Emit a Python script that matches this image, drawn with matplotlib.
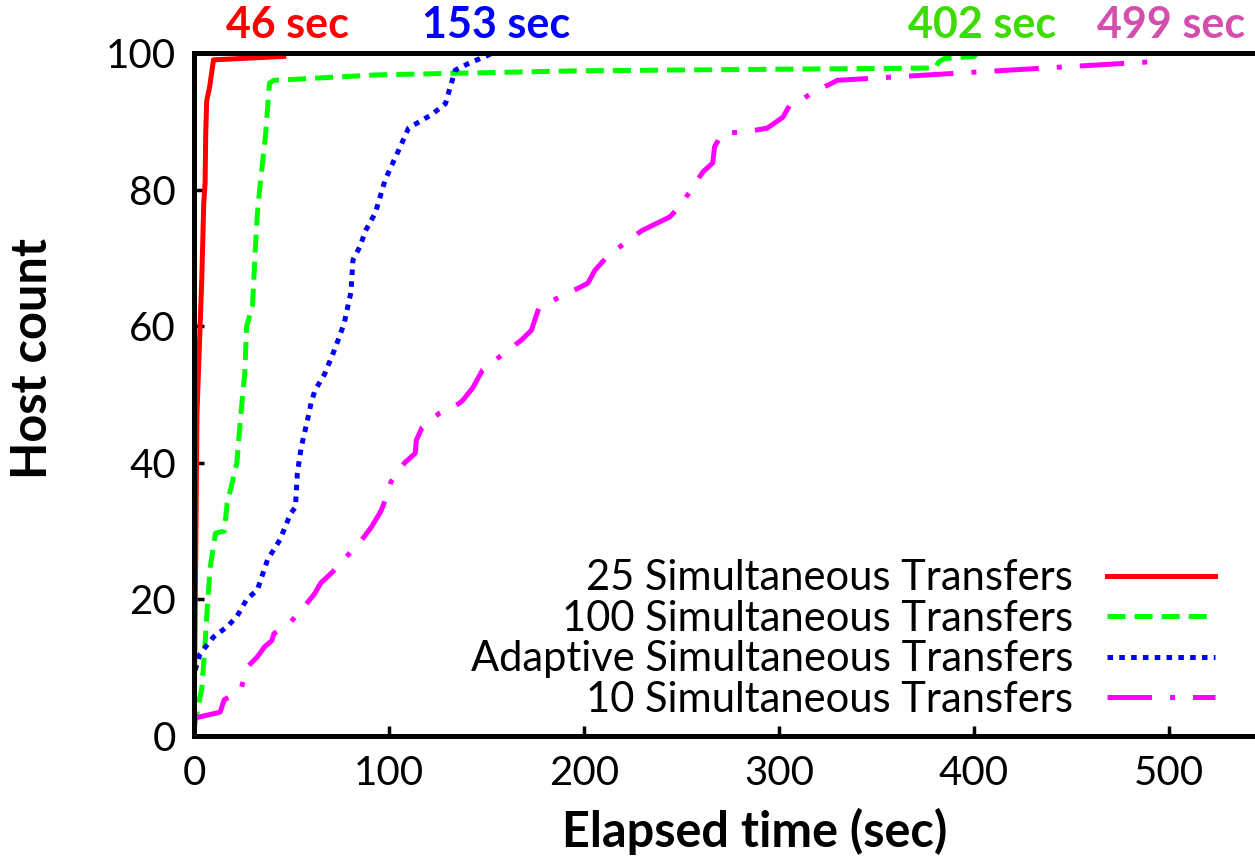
import matplotlib.pyplot as plt

plt.rcParams['font.family'] = ['Lato', 'DejaVu Sans']
plt.rcParams['lines.scale_dashes'] = False

# Host count over time for each transfer strategy
red_x = [0, 0.5, 1, 1.5, 2.5, 4, 5, 5.7, 6, 6.5, 8, 10, 46]
red_y = [0, 15, 30, 47, 55, 67, 78, 81, 88, 93, 95, 99, 99.5]

green_x = [0, 1.5, 4, 5.7, 6.7, 8.3, 11, 15.5, 17, 22, 24, 26, 27, 30, 31.5, 32.5,
           34, 36.7, 38.7, 41, 94.5, 198, 380, 382, 385, 400, 402]
green_y = [1, 3.4, 7, 13.6, 18.4, 24.7, 29.7, 30, 34, 40, 47, 53, 60, 63, 71.6, 76.5,
           81, 88, 95.6, 96, 96.8, 97.4, 97.8, 98.7, 99.2, 99.5, 100]

blue_x = [0, 0, 3, 10, 17, 22, 27, 32.5, 37.7, 44, 49.6, 52, 53, 55, 58, 60, 62, 67,
          72, 77, 80.5, 81.5, 85, 88, 93, 98, 101, 105, 110, 122, 129, 132, 134,
          141, 151, 153]
blue_y = [1, 9, 12, 14.5, 16, 17.5, 20, 21.4, 25.8, 28.7, 32.6, 33.5, 38.5, 42.3, 46,
          48.7, 50.6, 53, 56.5, 60.4, 65, 69.7, 71.6, 74, 76.6, 81.4, 83.3, 85.8, 89,
          91, 92.6, 95.6, 97.5, 98.5, 99.7, 100]

pink_x = [0, 13.4, 15.5, 24, 27, 32.5, 36, 40, 41, 49.6, 56.7, 62, 65, 71, 78, 86, 91,
          96, 98, 101, 108, 113.5, 114, 117, 126, 136, 138, 143, 148, 168, 173, 177,
          198, 202, 205.6, 212, 221, 229.7, 244, 249, 255, 261, 266, 267, 271, 282,
          294, 302, 305.6, 311, 316, 330, 400.6, 496]
pink_y = [2.6, 3.5, 5.3, 6.7, 10, 11.6, 13, 14, 15, 16.7, 19, 20.9, 22.4, 24, 26.2,
          28.7, 30.6, 33, 34.5, 37.2, 40, 41.4, 43.3, 45.2, 47.3, 48.7, 49.2, 51, 53.6,
          58, 59.4, 62.8, 65.7, 66.3, 68.2, 70.2, 72.2, 74, 76, 77.5, 80, 82.6, 83.9,
          86.3, 88.3, 88.4, 89, 90.6, 92.4, 93, 94, 96, 97.2, 98.8]

labels = ['25 Simultaneous Transfers', '100 Simultaneous Transfers',
          'Adaptive Simultaneous Transfers', '10 Simultaneous Transfers']
finish_times = [46, 153, 402, 499]
finish_colors = ['#ff0000', '#0000ff', '#3ddc00', '#d24fad']

fig = plt.figure(figsize=(12.55, 8.56), dpi=100)
ax = fig.add_axes([194 / 1255, 120 / 856, 1072.5 / 1255, 683 / 856])

ax.plot(red_x, red_y, color='#ff0000', lw=3.6, label=labels[0])
ax.plot(green_x, green_y, color='#00ff00', lw=3.6, ls=(0, (13, 6.5)), label=labels[1])
ax.plot(blue_x, blue_y, color='#0000ff', lw=3.6, ls=(0, (4, 4.5)), label=labels[2])
ax.plot(pink_x, pink_y, color='#ff00ff', lw=3.6, ls=(0, (32, 13, 3.6, 13)), label=labels[3])

# completion times above the frame
for t, c in zip(finish_times, finish_colors):
    ax.text(t + 2, 101.2, f'{t} sec', color=c, ha='center', va='bottom',
            fontsize=31, fontweight='bold')

ax.set_xlim(0, 550)
ax.set_ylim(0, 100)
ax.set_xticks([0, 100, 200, 300, 400, 500])
ax.set_yticks([0, 20, 40, 60, 80, 100])

for s in ['left', 'bottom', 'top']:
    ax.spines[s].set_linewidth(3.6)
ax.spines['right'].set_visible(False)
ax.tick_params(direction='in', length=7, width=2.5, labelsize=29)
ax.tick_params(axis='y', pad=13)
ax.tick_params(axis='x', pad=14)

ax.set_xlabel('Elapsed time (sec)', fontsize=35, fontweight='bold')
ax.set_ylabel('Host count', fontsize=35, fontweight='bold')
ax.xaxis.set_label_coords(0.523, -0.105)
ax.yaxis.set_label_coords(-0.13, 0.552)

ax.legend(loc='lower right', bbox_to_anchor=(0.952, 0.025), frameon=False,
          markerfirst=False, fontsize=30, handlelength=2.6, handletextpad=0.8,
          labelspacing=0.06, borderpad=0, borderaxespad=0)

fig.savefig('out.png', dpi=100)
